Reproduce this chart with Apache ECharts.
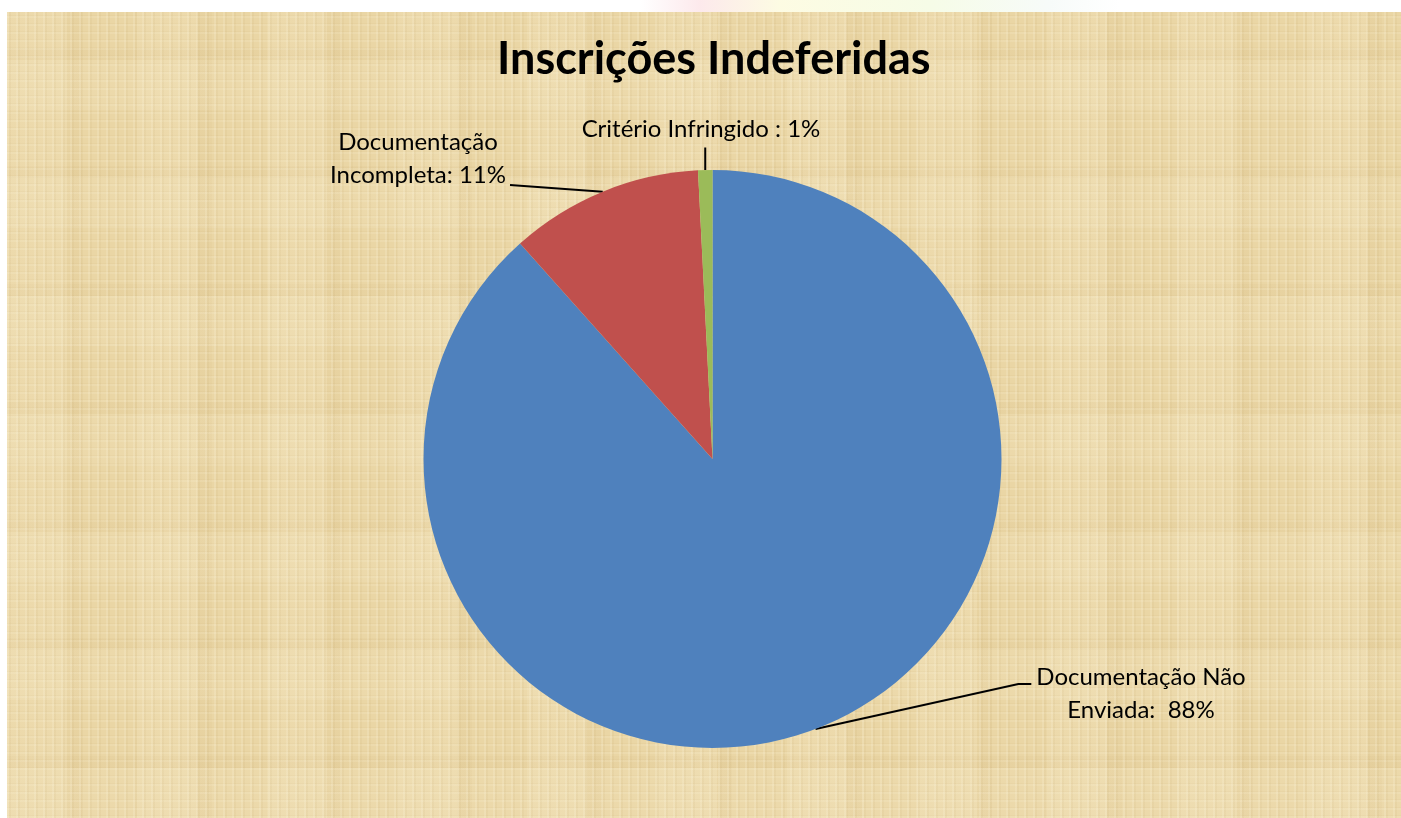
<!DOCTYPE html>
<html>
<head>
<meta charset="utf-8">
<script src="https://cdn.jsdelivr.net/npm/echarts@6/dist/echarts.min.js"></script>
<style>
  html, body { margin:0; padding:0; width:1401px; height:818px; overflow:hidden; background:#ffffff; }
  #topband { position:absolute; left:0; top:0; width:1401px; height:12px;
    background: linear-gradient(90deg, rgba(255,255,255,0) 0px, rgba(255,255,255,0) 640px, rgba(250,215,220,0.55) 700px, rgba(252,250,215,0.7) 780px, rgba(240,250,215,0.6) 930px, rgba(235,245,240,0.4) 1050px, rgba(255,255,255,0) 1120px); }
  #bg { position:absolute; left:7px; top:12px; right:0; bottom:0;
    background-color:#EAD6A5;
    background-image:
      repeating-linear-gradient(90deg, rgba(255,250,230,0.16) 0px, rgba(255,250,230,0.16) 2px, rgba(150,115,45,0.05) 2px, rgba(150,115,45,0.05) 4px, rgba(0,0,0,0) 4px, rgba(0,0,0,0) 9px),
      repeating-linear-gradient(0deg, rgba(255,250,230,0.12) 0px, rgba(255,250,230,0.12) 2px, rgba(150,115,45,0.04) 2px, rgba(150,115,45,0.04) 3px, rgba(0,0,0,0) 3px, rgba(0,0,0,0) 8px),
      repeating-linear-gradient(90deg, rgba(255,245,220,0.12) 0px, rgba(255,245,220,0.12) 60px, rgba(170,130,60,0.04) 60px, rgba(170,130,60,0.04) 75px, rgba(0,0,0,0) 75px, rgba(0,0,0,0) 130px),
      repeating-linear-gradient(0deg, rgba(255,245,220,0.10) 0px, rgba(255,245,220,0.10) 50px, rgba(170,130,60,0.04) 50px, rgba(170,130,60,0.04) 62px, rgba(0,0,0,0) 62px, rgba(0,0,0,0) 118px);
  }
  #chart { position:absolute; left:0; top:0; width:1401px; height:818px; }
</style>
</head>
<body>
<div id="topband"></div>
<div id="bg"></div>
<div id="chart"></div>
<script>
// ---- data ----
const categories = ['Documentação Não Enviada', 'Documentação Incompleta', 'Critério Infringido'];
const values = [88.4, 10.8, 0.8];
const labelTexts = ['Documentação Não\nEnviada: ', 'Documentação\nIncompleta:', 'Critério Infringido :'];
const colors = ['#4F81BD', '#C0504D', '#9BBB59'];
const titleText = 'Inscrições Indeferidas';

const FONT = 'Lato';
const chart = echarts.init(document.getElementById('chart'), null, { renderer: 'canvas' });

// label anchor layout (centre of each label block)
const labelAnchors = [
  { x: 1141, y: 694 },
  { x: 418, y: 159 },
  { x: 701, y: 129 }
];

const option = {
  backgroundColor: 'transparent',
  animation: false,
  title: {
    text: titleText,
    left: 497,
    top: 37,
    padding: 0,
    textStyle: { fontFamily: FONT, fontSize: 45, fontWeight: 'bold', color: '#000000' }
  },
  series: [{
    type: 'pie',
    center: [712.5, 459],
    radius: 289,
    startAngle: 90,
    clockwise: true,
    avoidLabelOverlap: false,
    itemStyle: { borderWidth: 0 },
    emphasis: { disabled: true },
    data: categories.map((c, i) => ({ name: c, value: values[i], itemStyle: { color: colors[i] } })),
    label: {
      show: true,
      position: 'outside',
      fontFamily: FONT,
      fontSize: 24,
      lineHeight: 33,
      color: '#000000',
      align: 'center',
      formatter: p => labelTexts[p.dataIndex] + ' ' + Math.round(p.percent) + '%'
    },
    labelLine: { show: true, length: 20, length2: 10, lineStyle: { color: '#000000', width: 2 } },
    labelLayout: function (params) {
      const i = params.dataIndex;
      const a = labelAnchors[i];
      const w = params.labelRect.width, h = params.labelRect.height;
      const left = a.x - w / 2, right = a.x + w / 2, top = a.y - h / 2, bottom = a.y + h / 2;
      const s = params.labelLinePoints ? params.labelLinePoints[0] : [a.x, a.y];
      let pts;
      if (i === 0) {
        const yy = top + 23;
        pts = [s, [left - 18, yy], [left - 5, yy]];
      } else if (i === 1) {
        const e = [right + 4, bottom - 7];
        pts = [s, e, e];
      } else {
        const e = [s[0], bottom + 2];
        pts = [s, e, e];
      }
      return {
        x: a.x, y: a.y, align: 'center', verticalAlign: 'middle',
        labelLinePoints: pts
      };
    }
  }]
};
chart.setOption(option);
</script>
</body>
</html>
